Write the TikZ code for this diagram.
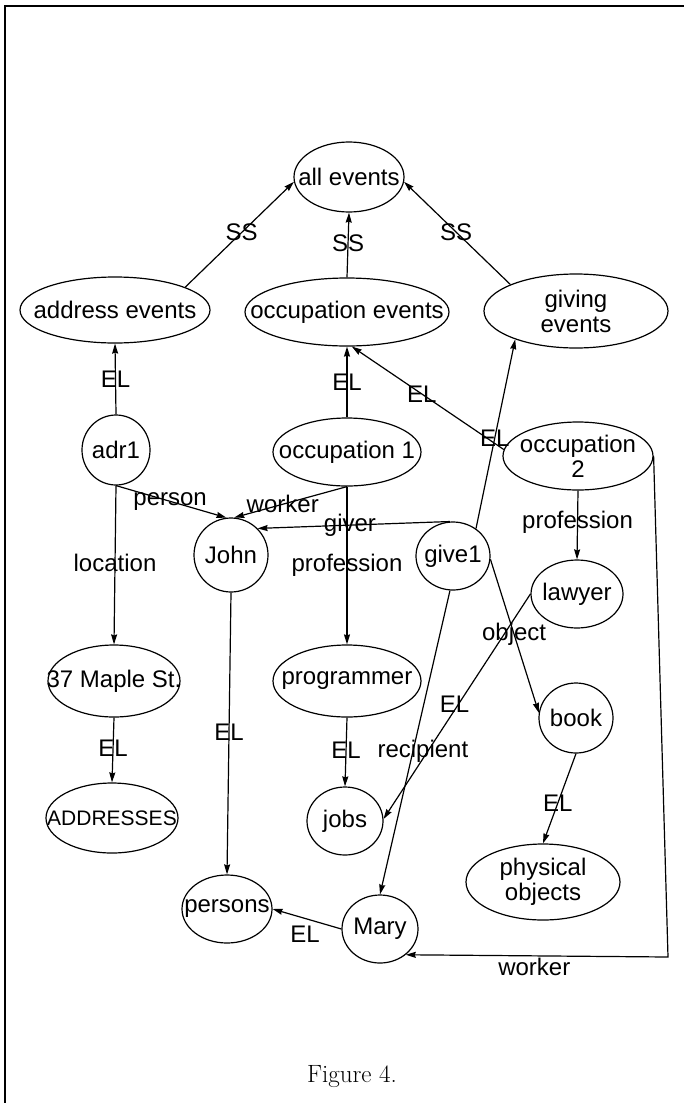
\documentclass[tikz,border=0pt]{standalone}
\usepackage{fontspec}
\setsansfont{Liberation Sans}
\usetikzlibrary{shapes.geometric,arrows.meta}
\begin{document}
\begin{tikzpicture}[x=1pt,y=-1pt,
  tx/.style={font=\sffamily\fontsize{24}{25}\selectfont,align=center,inner sep=0pt},
  nd/.style={draw,ellipse,inner sep=0pt,line width=1.2pt},
  arr/.style={line width=1.2pt,-{Stealth[length=10pt,width=6pt,inset=1pt]}},
  lbl/.style={font=\sffamily\fontsize{24}{25}\selectfont,inner sep=0pt},
  frame/.style={line width=1.6pt}
]
\useasboundingbox (0,0) rectangle (684,1103);
\draw[frame] (5,1103) -- (5,6) -- (684,6);

% nodes (ellipse size fixed, text as centred label)
\node[nd,minimum width=110pt,minimum height=70pt,label={[tx]center:all events}] (allev) at (349,177) {};
\node[nd,minimum width=190pt,minimum height=66pt,label={[tx]center:address events}] (addrev) at (115,310) {};
\node[nd,minimum width=204pt,minimum height=68pt,label={[tx]center:occupation events}] (occev) at (347,312) {};
\node[nd,minimum width=184pt,minimum height=74pt,label={[tx]center:{giving\\events}}] (givingev) at (576,311) {};
\node[nd,minimum width=68pt,minimum height=70pt,label={[tx]center:adr1}] (adr1) at (116,450) {};
\node[nd,minimum width=148pt,minimum height=68pt,label={[tx]center:occupation 1}] (occ1) at (347,452) {};
\node[nd,minimum width=150pt,minimum height=68pt,label={[tx]center:{occupation\\2}}] (occ2) at (578,456) {};
\node[nd,minimum width=74pt,minimum height=74pt,label={[tx]center:John}] (john) at (231,555) {};
\node[nd,minimum width=74pt,minimum height=68pt,label={[tx]center:give1}] (give1) at (453,556) {};
\node[nd,minimum width=92pt,minimum height=68pt,label={[tx]center:lawyer}] (lawyer) at (577,594) {};
\node[nd,minimum width=132pt,minimum height=72pt,label={[tx]center:37 Maple St.}] (maple) at (114,681) {};
\node[nd,minimum width=148pt,minimum height=72pt,label={[tx]center:programmer}] (prog) at (347,681) {};
\node[nd,minimum width=74pt,minimum height=70pt,label={[tx]center:book}] (book) at (576,718) {};
\node[nd,minimum width=132pt,minimum height=70pt,label={[tx,font=\sffamily\fontsize{21}{24}\selectfont]center:ADDRESSES}] (addr) at (112,818) {};
\node[nd,minimum width=76pt,minimum height=68pt,label={[tx]center:jobs}] (jobs) at (345,821) {};
\node[nd,minimum width=154pt,minimum height=76pt,label={[tx]center:{physical\\objects}}] (phys) at (543,882) {};
\node[nd,minimum width=90pt,minimum height=68pt,label={[tx]center:persons}] (persons) at (227,909) {};
\node[nd,minimum width=76pt,minimum height=68pt,label={[tx]center:Mary}] (mary) at (380,929) {};
\coordinate (wcorner) at (668,957);
\node[font=\fontsize{25}{30}\selectfont,inner sep=0pt] (caption) at (352,1077) {Figure 4.};

% SS edges
\draw[arr] (addrev.18) -- node[lbl,pos=0.52]{SS} (allev.185);
\draw[arr] (occev.north) -- node[lbl,pos=0.53]{SS} (allev.south);
\draw[arr] (givingev.158) -- node[lbl,pos=0.51]{SS} (allev.355);

% EL to event classes
\draw[arr] (adr1.north) -- node[lbl,pos=0.49]{EL} (addrev.south);
\draw[arr] (occ1.north) -- node[lbl,pos=0.5]{EL} (occev.south);
\draw[arr] (occ2.175) -- node[lbl,pos=0.54]{EL} (occev.-82);
\draw[arr] (give1.50) -- node[lbl,pos=0.48]{EL} (givingev.205);

% roles
\draw[arr] (adr1.south) -- node[lbl,pos=0.49]{person} (john.97);
\draw[arr] (occ1.south) -- node[lbl,pos=0.57]{worker} (john.85);
\draw[arr] (give1.95) -- node[lbl,pos=0.52]{giver} (john.45);
\draw[arr] (occ1.south) -- node[lbl,pos=0.5]{profession} (prog.north);
\draw[arr] (adr1.south) -- node[lbl,pos=0.49]{location} (maple.north);
\draw[arr] (occ2.south) -- node[lbl,pos=0.46]{profession} (lawyer.north);
\draw[arr] (give1.-5) -- node[lbl,pos=0.49]{object} (book.172);
\draw[arr] (give1.-95) -- node[lbl,pos=0.53,xshift=10pt]{recipient} (mary.north);
\draw[arr] (occ2.east) -- (wcorner) -- node[lbl,pos=0.51,below=2pt]{worker} (mary.-45);

% EL to classes
\draw[arr] (lawyer.west) -- node[lbl,pos=0.49,xshift=-4pt]{EL} (jobs.3);
\draw[arr] (john.south) -- node[lbl,pos=0.495]{EL} (persons.north);
\draw[arr] (prog.south) -- node[lbl,pos=0.47]{EL} (jobs.north);
\draw[arr] (maple.south) -- node[lbl,pos=0.47]{EL} (addr.north);
\draw[arr] (book.south) -- node[lbl,pos=0.55]{EL} (phys.north);
\draw[arr] (mary.west) -- node[lbl,pos=0.53,below=7pt]{EL} (persons.east);
\end{tikzpicture}
\end{document}
